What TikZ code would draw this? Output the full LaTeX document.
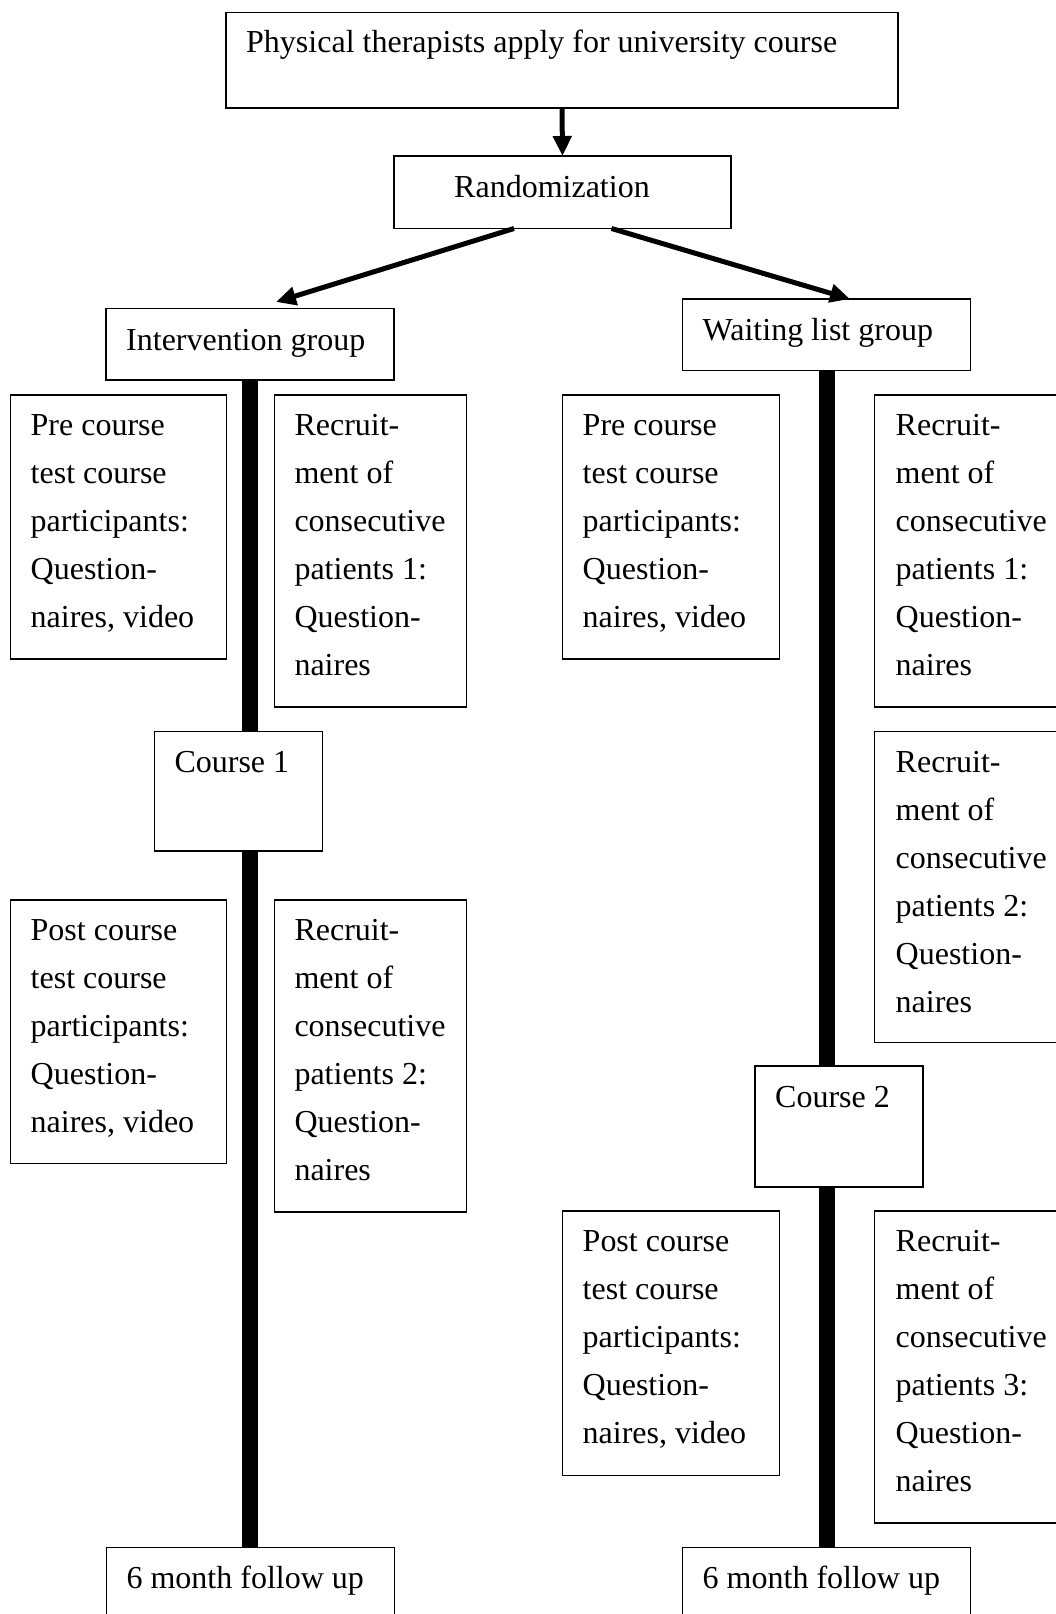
\documentclass[tikz,border=0pt]{standalone}
\usepackage{fontspec}
\setmainfont{Liberation Serif}
\usetikzlibrary{arrows.meta}

\begin{document}
\begin{tikzpicture}[x=1pt,y=-1pt,
  box/.style={draw,line width=1.5pt,inner sep=0pt,outer sep=0pt,anchor=north west},
  txt/.style={anchor=north west,align=left,inner sep=0pt,font=\fontsize{32}{48}\selectfont},
  flow/.style={line width=5pt,-{Triangle[length=20pt,width=18pt]}},
  trunk/.style={line width=16pt}]
\clip (0,0) rectangle (1056,1614);

\node[box,minimum width=672pt,minimum height=95.5pt] (top) at (226,12.7) {};
\node[box,minimum width=337pt,minimum height=72.5pt] (rand) at (394,156) {};
\node[box,minimum width=288pt,minimum height=71.5pt] (intv) at (106,308.5) {};
\node[box,minimum width=288pt,minimum height=71.5pt] (wait) at (682.5,299) {};

\node[box,minimum width=216pt,minimum height=264pt] (preL) at (10.5,395) {};
\node[box,minimum width=192.4pt,minimum height=312pt] (recL1) at (274.3,395) {};
\node[box,minimum width=168.4pt,minimum height=119.5pt] (c1) at (154.3,731.5) {};
\node[box,minimum width=216pt,minimum height=263.5pt] (postL) at (10.5,900) {};
\node[box,minimum width=192.4pt,minimum height=312pt] (recL2) at (274.3,900) {};
\node[box,minimum width=288pt,minimum height=100pt] (fuL) at (106.4,1547.5) {};

\node[box,minimum width=217pt,minimum height=264pt] (preR) at (562.5,395) {};
\node[box,minimum width=220pt,minimum height=312pt] (recR1) at (874.5,395) {};
\node[box,minimum width=220pt,minimum height=311pt] (recR2) at (874.5,731.5) {};
\node[box,minimum width=168pt,minimum height=121pt] (c2) at (755,1066) {};
\node[box,minimum width=217pt,minimum height=264.5pt] (postR) at (562.5,1211) {};
\node[box,minimum width=220pt,minimum height=312pt] (recR3) at (874.5,1211) {};
\node[box,minimum width=288pt,minimum height=100pt] (fuR) at (682.5,1547.5) {};

\node[txt] (topT) at ([shift={(20,6.4)}]top.north west) {\strut Physical therapists apply for university course};
\node[txt] (randT) at ([shift={(60,8)}]rand.north west) {\strut Randomization};
\node[txt] (intvT) at ([shift={(20,8.4)}]intv.north west) {\strut Intervention group};
\node[txt] (waitT) at ([shift={(20,7.4)}]wait.north west) {\strut Waiting list group};

\node[txt] (preLT) at ([shift={(20,6.4)}]preL.north west) {\strut Pre course\\test course\\participants:\\Question-\\naires, video};
\node[txt] (recL1T) at ([shift={(20,6.4)}]recL1.north west) {\strut Recruit-\\ment of\\consecutive\\patients 1:\\Question-\\naires};
\node[txt] (c1T) at ([shift={(20,7.4)}]c1.north west) {\strut Course 1};
\node[txt] (postLT) at ([shift={(20,6.4)}]postL.north west) {\strut Post course\\test course\\participants:\\Question-\\naires, video};
\node[txt] (recL2T) at ([shift={(20,6.4)}]recL2.north west) {\strut Recruit-\\ment of\\consecutive\\patients 2:\\Question-\\naires};
\node[txt] (fuLT) at ([shift={(20,7.4)}]fuL.north west) {\strut 6 month follow up};

\node[txt] (preRT) at ([shift={(20,6.4)}]preR.north west) {\strut Pre course\\test course\\participants:\\Question-\\naires, video};
\node[txt] (recR1T) at ([shift={(21,6.4)}]recR1.north west) {\strut Recruit-\\ment of\\consecutive\\patients 1:\\Question-\\naires};
\node[txt] (recR2T) at ([shift={(21,7.4)}]recR2.north west) {\strut Recruit-\\ment of\\consecutive\\patients 2:\\Question-\\naires};
\node[txt] (c2T) at ([shift={(20,7.4)}]c2.north west) {\strut Course 2};
\node[txt] (postRT) at ([shift={(20,6.4)}]postR.north west) {\strut Post course\\test course\\participants:\\Question-\\naires, video};
\node[txt] (recR3T) at ([shift={(21,6.4)}]recR3.north west) {\strut Recruit-\\ment of\\consecutive\\patients 3:\\Question-\\naires};
\node[txt] (fuRT) at ([shift={(20,7.4)}]fuR.north west) {\strut 6 month follow up};

\coordinate (intvtip) at (276,302);
\coordinate (waittip) at (850,299);

\draw[flow] (top.south) -- (rand.north);
\draw[flow] ([xshift=-48.5pt]rand.south) -- (intvtip);
\draw[flow] ([xshift=49pt]rand.south) -- (waittip);

\draw[trunk] (intv.south) -- (intv.south |- c1.north);
\draw[trunk] (c1.south -| intv.south) -- (fuL.north -| intv.south);
\draw[trunk] (wait.south) -- (wait.south |- c2.north);
\draw[trunk] (c2.south -| wait.south) -- (fuR.north -| wait.south);
\end{tikzpicture}
\end{document}
